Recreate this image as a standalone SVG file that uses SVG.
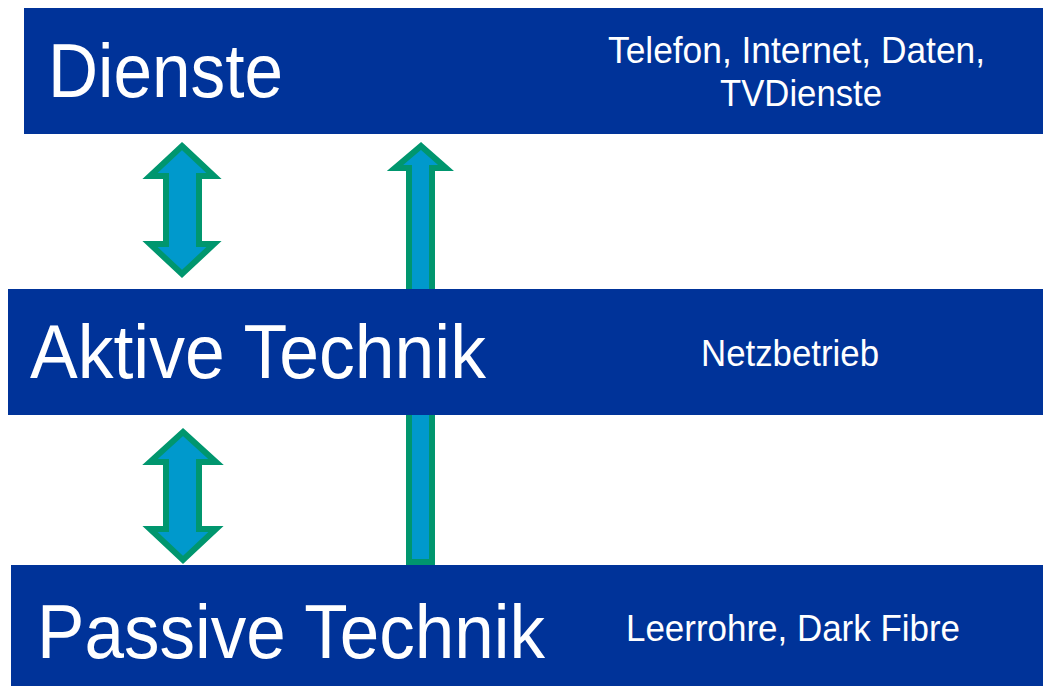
<svg xmlns="http://www.w3.org/2000/svg" width="1043" height="686" viewBox="0 0 1043 686">
<style>
.box{fill:#003399}
.big{font-family:"Liberation Sans",Arial,sans-serif;font-size:76px;fill:#fff}
.small{font-family:"Liberation Sans",Arial,sans-serif;font-size:37px;fill:#fff}
.arr{fill:#0099cc;stroke:#00966e;stroke-width:6;stroke-linejoin:miter}
</style>
<rect width="1043" height="686" fill="#fff"/>
<g id="connectors">
<polygon class="arr" points="421,146 446,168 432,168 432,562 409,562 409,168 395,168"/>
<polygon class="arr" points="182,146 214,176 199,176 199,244 214,244 182,274 150,244 166,244 166,176 150,176"/>
<polygon class="arr" points="183,432 216,462 199,462 199,529 216,529 183,560 150,529 166,529 166,462 150,462"/>
</g>
<g id="dienste">
<rect class="box" x="24" y="8" width="1019" height="126"/>
<text class="big" x="48" y="97" textLength="235" lengthAdjust="spacingAndGlyphs">Dienste</text>
<text class="small" x="608" y="63" textLength="377" lengthAdjust="spacingAndGlyphs">Telefon, Internet, Daten,</text>
<text class="small" x="720" y="106" textLength="162" lengthAdjust="spacingAndGlyphs">TVDienste</text>
</g>
<g id="aktive">
<rect class="box" x="8" y="289" width="1035" height="126"/>
<text class="big" x="30" y="378" textLength="456" lengthAdjust="spacingAndGlyphs">Aktive Technik</text>
<text class="small" x="701" y="366" textLength="178" lengthAdjust="spacingAndGlyphs">Netzbetrieb</text>
</g>
<g id="passive">
<rect class="box" x="11" y="565" width="1032" height="121"/>
<text class="big" x="37" y="658" textLength="508" lengthAdjust="spacingAndGlyphs">Passive Technik</text>
<text class="small" x="626" y="641" textLength="334" lengthAdjust="spacingAndGlyphs">Leerrohre, Dark Fibre</text>
</g>
</svg>
